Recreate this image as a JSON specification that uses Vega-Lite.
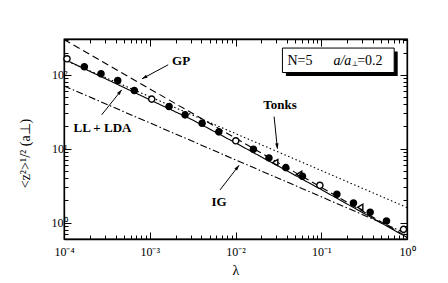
{
"$schema": "https://vega.github.io/schema/vega-lite/v6.json",
"width": 343, "height": 200,
"autosize": {"type": "none"},
"padding": {"left": 64, "top": 39, "right": 41, "bottom": 44},
"background": "white",
"config": {
  "view": {"stroke": "black", "strokeWidth": 1.3},
  "axis": {"labelFont": "Liberation Serif", "titleFont": "Liberation Serif", "labelColor": "black", "titleColor": "black", "tickColor": "black", "domainColor": "black", "grid": false, "labelFontSize": 12, "titleFontWeight": "normal", "domainWidth": 1.3, "tickWidth": 1, "labelOverlap": false, "labelFlush": false}
},
"datasets": {
  "curves": [
    {"model": "GP", "lam": 0.0001, "val": 299.4}, {"model": "GP", "lam": 1, "val": 0.645},
    {"model": "Tonks", "lam": 0.0001, "val": 160}, {"model": "Tonks", "lam": 1, "val": 1.6},
    {"model": "IG", "lam": 0.0001, "val": 70.7}, {"model": "IG", "lam": 1, "val": 0.707},
    {"model": "LL+LDA", "lam": 0.0001, "val": 163}, {"model": "LL+LDA", "lam": 0.001, "val": 46},
    {"model": "LL+LDA", "lam": 0.00316, "val": 24.5}, {"model": "LL+LDA", "lam": 0.01, "val": 12.0},
    {"model": "LL+LDA", "lam": 0.0316, "val": 5.8}, {"model": "LL+LDA", "lam": 0.1, "val": 2.8},
    {"model": "LL+LDA", "lam": 0.316, "val": 1.33}, {"model": "LL+LDA", "lam": 1, "val": 0.63}
  ],
  "markers": [
    {"kind": "open", "lam": 0.0001084, "val": 164.8},
    {"kind": "filled", "lam": 0.0001726, "val": 128.4},
    {"kind": "filled", "lam": 0.0002702, "val": 103.2},
    {"kind": "filled", "lam": 0.0004232, "val": 83.7},
    {"kind": "filled", "lam": 0.000661, "val": 61.3},
    {"kind": "open", "lam": 0.001055, "val": 46.9},
    {"kind": "filled", "lam": 0.00168, "val": 37.2},
    {"kind": "filled", "lam": 0.002582, "val": 28.7},
    {"kind": "filled", "lam": 0.004076, "val": 22.1},
    {"kind": "filled", "lam": 0.006384, "val": 16.9},
    {"kind": "open", "lam": 0.01008, "val": 12.8},
    {"kind": "filled", "lam": 0.01618, "val": 9.84},
    {"kind": "filled", "lam": 0.02455, "val": 7.5},
    {"kind": "triangle", "lam": 0.029, "val": 6.5},
    {"kind": "filled", "lam": 0.03864, "val": 5.54},
    {"kind": "triangle", "lam": 0.0552, "val": 4.49},
    {"kind": "filled", "lam": 0.06035, "val": 4.24},
    {"kind": "open", "lam": 0.09632, "val": 3.2},
    {"kind": "filled", "lam": 0.1521, "val": 2.42},
    {"kind": "filled", "lam": 0.2375, "val": 1.84},
    {"kind": "triangle", "lam": 0.2844, "val": 1.61},
    {"kind": "filled", "lam": 0.372, "val": 1.38},
    {"kind": "filled", "lam": 0.5765, "val": 1.05},
    {"kind": "open", "lam": 0.9104, "val": 0.81}
  ],
  "box": [
    {"part": "shadow", "lam": 0.0387, "lam2": 0.779, "val": 96.3, "val2": 206},
    {"part": "frame", "lam": 0.03526, "lam2": 0.7087, "val": 107.4, "val2": 230}
  ],
  "boxtext": [
    {"piece": "N=5", "lam": 0.0403, "val": 156},
    {"piece": "a/a", "lam": 0.1388, "val": 156},
    {"piece": "⊥", "lam": 0.2275, "val": 141},
    {"piece": "=0.2", "lam": 0.2624, "val": 156}
  ],
  "labels": [
    {"text": "GP", "lam": 0.00232, "val": 154.8},
    {"text": "LL + LDA", "lam": 0.000281, "val": 18.8},
    {"text": "Tonks", "lam": 0.0331, "val": 39.2},
    {"text": "IG", "lam": 0.00644, "val": 1.9}
  ],
  "arrows": [
    {"name": "GP", "lam": 0.00164, "val": 136.6, "lam2": 0.000813, "val2": 88.3},
    {"name": "LL", "lam": 0.000275, "val": 28.7, "lam2": 0.000471, "val2": 62.6},
    {"name": "Tonks", "lam": 0.0282, "val": 27.2, "lam2": 0.0308, "val2": 10.0},
    {"name": "IG", "lam": 0.0066, "val": 2.77, "lam2": 0.011, "val2": 5.97}
  ]
},
"encoding": {
  "x": {"field": "lam", "type": "quantitative", "scale": {"type": "log", "domain": [0.0001, 1], "nice": false}, "axis": null},
  "y": {"field": "val", "type": "quantitative", "scale": {"type": "log", "domain": [0.6, 305], "nice": false}, "axis": null}
},
"layer": [
  {
    "data": {"name": "curves"},
    "mark": {"type": "line", "color": "black", "strokeWidth": 1.1, "clip": true},
    "encoding": {
      "x": {"field": "lam", "type": "quantitative", "scale": {"type": "log", "domain": [0.0001, 1], "nice": false},
        "axis": {"orient": "bottom",
          "values": [0.0001,0.0002,0.0003,0.0004,0.0005,0.0006,0.0007,0.0008,0.0009,0.001,0.002,0.003,0.004,0.005,0.006,0.007,0.008,0.009,0.01,0.02,0.03,0.04,0.05,0.06,0.07,0.08,0.09,0.1,0.2,0.3,0.4,0.5,0.6,0.7,0.8,0.9,1],
          "labelExpr": "abs(log(datum.value)/LN10 - round(log(datum.value)/LN10)) < 0.01 ? ['10⁻⁴','10⁻³','10⁻²','10⁻¹','10⁰'][round(log(datum.value)/LN10) + 4] : ''",
          "tickSize": {"condition": {"test": "abs(log(datum.value)/LN10 - round(log(datum.value)/LN10)) < 0.01", "value": -7}, "value": -4},
          "labelPadding": 14,
          "title": "λ", "titleFontSize": 14, "titleY": 31, "titleBaseline": "middle"}},
      "y": {"field": "val", "type": "quantitative", "scale": {"type": "log", "domain": [0.6, 305], "nice": false},
        "axis": {"orient": "left",
          "values": [0.7,0.8,0.9,1,2,3,4,5,6,7,8,9,10,20,30,40,50,60,70,80,90,100,200,300],
          "labelExpr": "abs(log(datum.value)/LN10 - round(log(datum.value)/LN10)) < 0.01 ? ['10⁰','10¹','10²'][round(log(datum.value)/LN10)] : ''",
          "tickSize": {"condition": {"test": "abs(log(datum.value)/LN10 - round(log(datum.value)/LN10)) < 0.01", "value": -7}, "value": -4},
          "labelPadding": 4,
          "title": "<z²>¹/²      (a⊥)", "titleFontSize": 14, "titleX": -39, "titleY": 114, "titleAngle": -90, "titleBaseline": "middle", "titleAlign": "center"}},
      "strokeDash": {"field": "model", "type": "nominal", "scale": {"domain": ["LL+LDA", "GP", "Tonks", "IG"], "range": [[1, 0], [7, 4], [1.5, 2.5], [7, 2.5, 1.5, 2.5]]}, "legend": null}
    }
  },
  {
    "data": {"name": "markers"},
    "mark": {"type": "point", "opacity": 0},
    "encoding": {
      "x": {"field": "lam", "type": "quantitative", "scale": {"type": "log", "domain": [0.0001, 1], "nice": false},
        "axis": {"orient": "top", "labels": false, "title": null,
          "values": [0.0001,0.0002,0.0003,0.0004,0.0005,0.0006,0.0007,0.0008,0.0009,0.001,0.002,0.003,0.004,0.005,0.006,0.007,0.008,0.009,0.01,0.02,0.03,0.04,0.05,0.06,0.07,0.08,0.09,0.1,0.2,0.3,0.4,0.5,0.6,0.7,0.8,0.9,1],
          "tickSize": {"condition": {"test": "abs(log(datum.value)/LN10 - round(log(datum.value)/LN10)) < 0.01", "value": -7}, "value": -4}}},
      "y": {"field": "val", "type": "quantitative", "scale": {"type": "log", "domain": [0.6, 305], "nice": false},
        "axis": {"orient": "right", "labels": false, "title": null,
          "values": [0.7,0.8,0.9,1,2,3,4,5,6,7,8,9,10,20,30,40,50,60,70,80,90,100,200,300],
          "tickSize": {"condition": {"test": "abs(log(datum.value)/LN10 - round(log(datum.value)/LN10)) < 0.01", "value": -7}, "value": -4}}}
    }
  },
  {
    "data": {"name": "markers"},
    "mark": {"type": "point", "filled": true, "stroke": "black", "strokeWidth": 1.4, "size": 38, "opacity": 1},
    "encoding": {
      "shape": {"field": "kind", "type": "nominal", "scale": {"domain": ["open", "filled", "triangle"], "range": ["circle", "circle", "triangle-left"]}, "legend": null},
      "fill": {"field": "kind", "type": "nominal", "scale": {"domain": ["open", "filled", "triangle"], "range": ["white", "black", "white"]}, "legend": null}
    }
  },
  {
    "data": {"name": "box"},
    "transform": [{"filter": "datum.part === 'shadow'"}],
    "mark": {"type": "rect", "color": "black"},
    "encoding": {"x2": {"field": "lam2"}, "y2": {"field": "val2"}}
  },
  {
    "data": {"name": "box"},
    "transform": [{"filter": "datum.part === 'frame'"}],
    "mark": {"type": "rect", "fill": "white", "stroke": "black", "strokeWidth": 1},
    "encoding": {"x2": {"field": "lam2"}, "y2": {"field": "val2"}}
  },
  {
    "data": {"name": "boxtext"},
    "transform": [{"filter": "datum.piece === 'N=5' || datum.piece === '=0.2'"}],
    "mark": {"type": "text", "font": "Liberation Serif", "fontSize": 14, "align": "left", "baseline": "middle", "color": "black"},
    "encoding": {"text": {"field": "piece"}}
  },
  {
    "data": {"name": "boxtext"},
    "transform": [{"filter": "datum.piece === 'a/a'"}],
    "mark": {"type": "text", "font": "Liberation Serif", "fontSize": 14, "fontStyle": "italic", "align": "left", "baseline": "middle", "color": "black"},
    "encoding": {"text": {"field": "piece"}}
  },
  {
    "data": {"name": "boxtext"},
    "transform": [{"filter": "datum.piece === '⊥'"}],
    "mark": {"type": "text", "font": "DejaVu Serif", "fontSize": 7, "align": "left", "baseline": "middle", "color": "black"},
    "encoding": {"text": {"field": "piece"}}
  },
  {
    "data": {"name": "labels"},
    "mark": {"type": "text", "font": "Liberation Serif", "fontSize": 13, "fontWeight": "bold", "align": "center", "baseline": "middle", "color": "black"},
    "encoding": {"text": {"field": "text"}}
  },
  {
    "data": {"name": "arrows"},
    "mark": {"type": "rule", "color": "black", "strokeWidth": 1},
    "encoding": {"x2": {"field": "lam2"}, "y2": {"field": "val2"}}
  },
  {
    "data": {"name": "arrows"},
    "transform": [{"filter": "datum.name === 'GP'"}],
    "mark": {"type": "point", "shape": "M0,0L-0.55,1.7L0.55,1.7Z", "filled": true, "color": "black", "opacity": 1, "size": 40, "angle": 241.6},
    "encoding": {"x": {"field": "lam2", "type": "quantitative"}, "y": {"field": "val2", "type": "quantitative"}}
  },
  {
    "data": {"name": "arrows"},
    "transform": [{"filter": "datum.name === 'LL'"}],
    "mark": {"type": "point", "shape": "M0,0L-0.55,1.7L0.55,1.7Z", "filled": true, "color": "black", "opacity": 1, "size": 40, "angle": 38.7},
    "encoding": {"x": {"field": "lam2", "type": "quantitative"}, "y": {"field": "val2", "type": "quantitative"}}
  },
  {
    "data": {"name": "arrows"},
    "transform": [{"filter": "datum.name === 'Tonks'"}],
    "mark": {"type": "point", "shape": "M0,0L-0.55,1.7L0.55,1.7Z", "filled": true, "color": "black", "opacity": 1, "size": 40, "angle": 174},
    "encoding": {"x": {"field": "lam2", "type": "quantitative"}, "y": {"field": "val2", "type": "quantitative"}}
  },
  {
    "data": {"name": "arrows"},
    "transform": [{"filter": "datum.name === 'IG'"}],
    "mark": {"type": "point", "shape": "M0,0L-0.55,1.7L0.55,1.7Z", "filled": true, "color": "black", "opacity": 1, "size": 40, "angle": 37.6},
    "encoding": {"x": {"field": "lam2", "type": "quantitative"}, "y": {"field": "val2", "type": "quantitative"}}
  }
]
}
